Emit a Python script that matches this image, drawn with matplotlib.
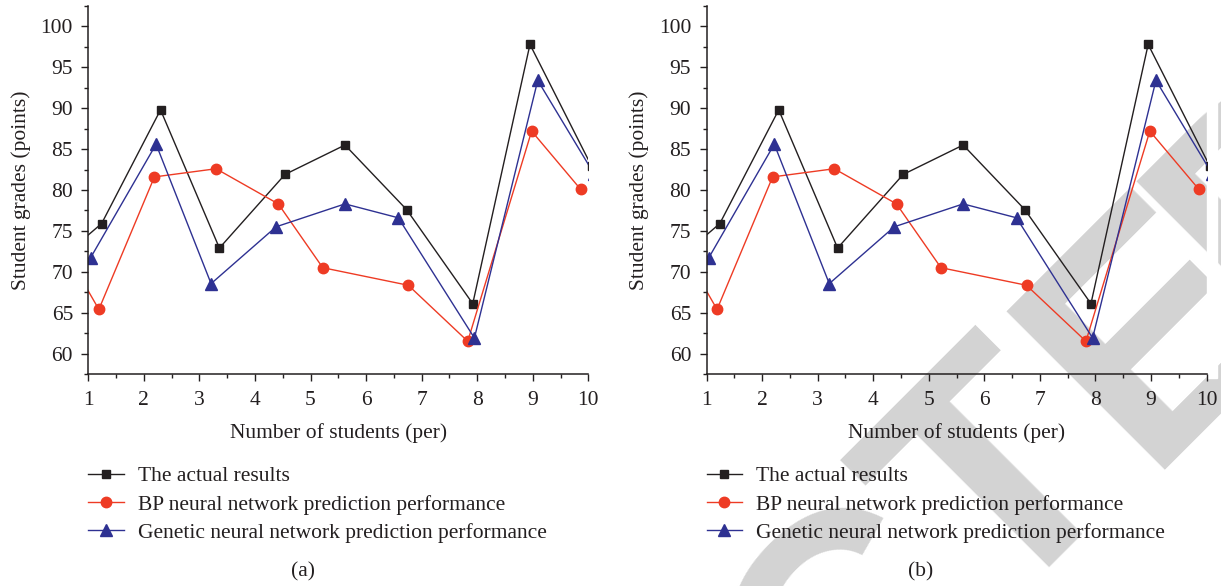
import matplotlib
matplotlib.use("Agg")
import matplotlib.pyplot as plt
from matplotlib.ticker import MultipleLocator

# ---- data (first/last points lie just outside the axes) ----
x_actual = [0.14, 1.24, 2.30, 3.36, 4.54, 5.62, 6.73, 7.92, 8.95, 10.06]
y_actual = [69.5, 75.9, 89.8, 72.9, 81.9, 85.5, 77.6, 66.1, 97.8, 82.9]

x_bp = [0.30, 1.19, 2.19, 3.30, 4.42, 5.22, 6.76, 7.83, 8.98, 9.86]
y_bp = [75.9, 65.4, 81.6, 82.6, 78.3, 70.5, 68.35, 61.5, 87.2, 80.1]

x_gen = [0.00, 1.04, 2.22, 3.21, 4.38, 5.62, 6.58, 7.95, 9.09, 10.10]
y_gen = [70.0, 71.7, 85.6, 68.55, 75.5, 78.3, 76.6, 61.9, 93.4, 82.0]

series_labels = ["The actual results",
                 "BP neural network prediction performance",
                 "Genetic neural network prediction performance"]
x_ticks = [1, 2, 3, 4, 5, 6, 7, 8, 9, 10]
y_ticks = [60, 65, 70, 75, 80, 85, 90, 95, 100]
x_label = "Number of students (per)"
y_label = "Student grades (points)"
captions = ["(a)", "(b)"]
# watermark word "RETRACTED", split into pieces that are placed one by one
watermark_pieces = ["RETRAC", "T", "E", "D"]

W, H = 1221, 586
DPI = 100
FONT = "Liberation Serif"
FS = 15.5
TXT = "#231f20"

c_black = "#231f20"
c_red = "#ee3b24"
c_blue = "#2e3192"

fig = plt.figure(figsize=(W / DPI, H / DPI), dpi=DPI)
fig.patch.set_facecolor("white")


def fx(px):
    return px / W


def fy(py):
    return 1 - py / H


# watermark behind panel (b): rotated 45 degrees, baseline along x+y = 1613 px
wm_kw = dict(fontsize=234, fontweight="bold", family="Liberation Sans",
             color="#d3d3d3", rotation=45, rotation_mode="anchor",
             va="baseline", zorder=-10)
BASE = 1613
wm_anchor_diff = [393, 377, 674, 934]   # x - y of each piece's anchor (ink edge)
wm_align = ["right", "left", "left", "left"]
for piece, d, ha in zip(watermark_pieces, wm_anchor_diff, wm_align):
    px, py = (BASE + d) / 2, (BASE - d) / 2
    fig.text(fx(px), fy(py), piece, ha=ha, **wm_kw)
fig.patches.append(plt.Rectangle((fx(1207), fy(378)), 10 / W, 302 / H,
                                 transform=fig.transFigure, color="white",
                                 zorder=-5))

panel_left = [88.3, 706.5]
for i, left in enumerate(panel_left):
    ax = fig.add_axes([fx(left), fy(374), 500 / W, 368 / H])
    ax.patch.set_alpha(0)
    ax.plot(x_actual, y_actual, color=c_black, lw=1.0, marker="s", ms=6.2,
            mfc=c_black, mec=c_black, label=series_labels[0])
    ax.plot(x_bp, y_bp, color=c_red, lw=1.0, marker="o", ms=7.5,
            mfc=c_red, mec=c_red, label=series_labels[1])
    ax.plot(x_gen, y_gen, color=c_blue, lw=1.0, marker="^", ms=8,
            mfc=c_blue, mec=c_blue, label=series_labels[2])
    ax.set_xlim(1, 10)
    ax.set_ylim(57.5, 102.5)
    ax.set_xticks(x_ticks)
    ax.set_yticks(y_ticks)
    ax.xaxis.set_minor_locator(MultipleLocator(0.5))
    ax.yaxis.set_minor_locator(MultipleLocator(2.5))
    for s in ["top", "right"]:
        ax.spines[s].set_visible(False)
    for s in ["left", "bottom"]:
        ax.spines[s].set_linewidth(1.1)
        ax.spines[s].set_color(TXT)
    ax.tick_params(which="major", direction="out", length=5, width=1.0,
                   labelsize=FS, color=TXT, labelcolor=TXT, pad=6)
    ax.tick_params(axis="x", which="major", pad=7)
    ax.tick_params(which="minor", direction="out", length=3, width=1.0,
                   color=TXT)
    for lab in ax.get_xticklabels() + ax.get_yticklabels():
        lab.set_family(FONT)
    ax.set_xlabel(x_label, family=FONT, fontsize=FS, color=TXT, labelpad=10)
    ax.set_ylabel(y_label, family=FONT, fontsize=FS, color=TXT, labelpad=7)
    ax.legend(loc="upper left", bbox_to_anchor=(0.0, -0.251),
              frameon=False, prop={"family": FONT, "size": FS},
              handlelength=1.65, handletextpad=0.65, labelspacing=0.38,
              borderaxespad=0, borderpad=0, labelcolor=TXT)
    fig.text(fx(left + 214.5), fy(572), captions[i], family=FONT, fontsize=FS,
             color=TXT, ha="center", va="center")

fig.savefig("out.png", dpi=DPI)
